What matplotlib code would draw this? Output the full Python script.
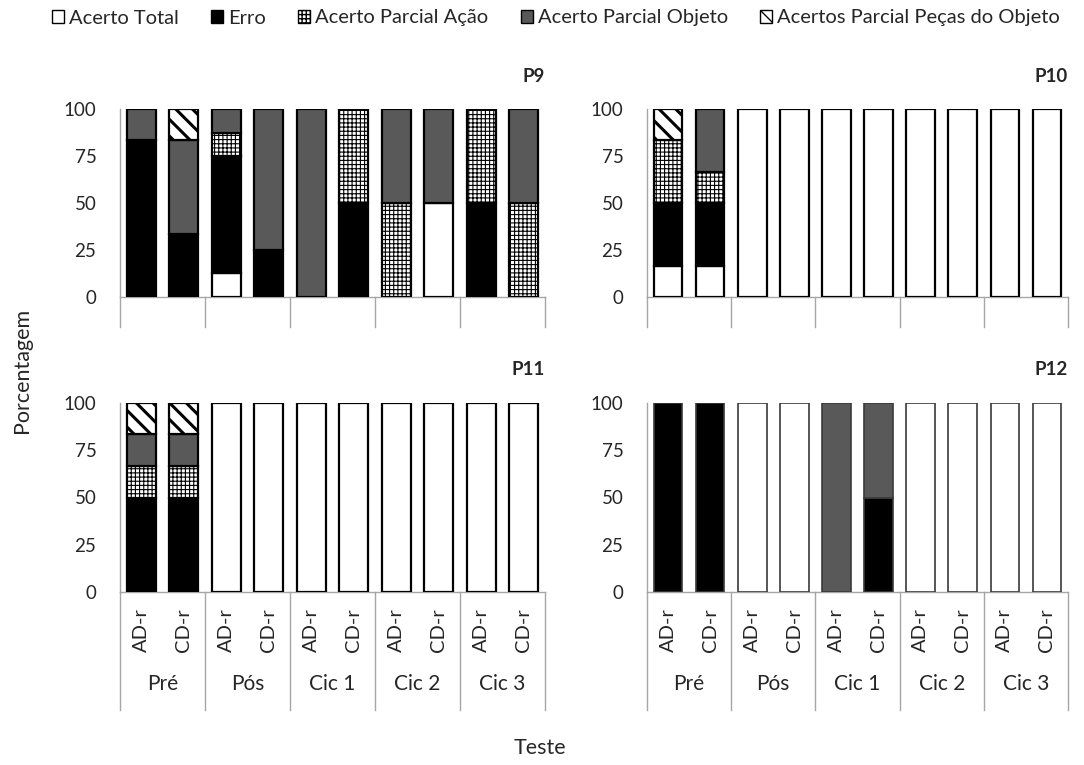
import numpy as np
import matplotlib
matplotlib.use('Agg')
import matplotlib.pyplot as plt
from matplotlib.patches import Patch

plt.rcParams['font.family'] = ['Lato', 'DejaVu Sans']

# categories
groups = ['Pré', 'Pós', 'Cic 1', 'Cic 2', 'Cic 3']
conds = ['AD-r', 'CD-r']
series = ['Acerto Total', 'Erro', 'Acerto Parcial Ação',
          'Acerto Parcial Objeto', 'Acertos Parcial Peças do Objeto']

# P9 (order: AD-r Pré, CD-r Pré, AD-r Pós, CD-r Pós, ... Cic 3)
p9_total  = [0, 0, 12.5, 0, 0, 0, 0, 50, 0, 0]
p9_erro   = [83.3, 33.3, 62.5, 25, 0, 50, 0, 0, 50, 0]
p9_acao   = [0, 0, 12.5, 0, 0, 50, 50, 0, 50, 50]
p9_objeto = [16.7, 50, 12.5, 75, 100, 0, 50, 50, 0, 50]
p9_pecas  = [0, 16.7, 0, 0, 0, 0, 0, 0, 0, 0]

# P10
p10_total  = [16.7, 16.7, 100, 100, 100, 100, 100, 100, 100, 100]
p10_erro   = [33.3, 33.3, 0, 0, 0, 0, 0, 0, 0, 0]
p10_acao   = [33.3, 16.7, 0, 0, 0, 0, 0, 0, 0, 0]
p10_objeto = [0, 33.3, 0, 0, 0, 0, 0, 0, 0, 0]
p10_pecas  = [16.7, 0, 0, 0, 0, 0, 0, 0, 0, 0]

# P11
p11_total  = [0, 0, 100, 100, 100, 100, 100, 100, 100, 100]
p11_erro   = [50, 50, 0, 0, 0, 0, 0, 0, 0, 0]
p11_acao   = [16.7, 16.7, 0, 0, 0, 0, 0, 0, 0, 0]
p11_objeto = [16.7, 16.7, 0, 0, 0, 0, 0, 0, 0, 0]
p11_pecas  = [16.6, 16.6, 0, 0, 0, 0, 0, 0, 0, 0]

# P12
p12_total  = [0, 0, 100, 100, 0, 0, 100, 100, 100, 100]
p12_erro   = [100, 100, 0, 0, 0, 50, 0, 0, 0, 0]
p12_acao   = [0, 0, 0, 0, 0, 0, 0, 0, 0, 0]
p12_objeto = [0, 0, 0, 0, 100, 50, 0, 0, 0, 0]
p12_pecas  = [0, 0, 0, 0, 0, 0, 0, 0, 0, 0]

panels = {
    'P9': [p9_total, p9_erro, p9_acao, p9_objeto, p9_pecas],
    'P10': [p10_total, p10_erro, p10_acao, p10_objeto, p10_pecas],
    'P11': [p11_total, p11_erro, p11_acao, p11_objeto, p11_pecas],
    'P12': [p12_total, p12_erro, p12_acao, p12_objeto, p12_pecas],
}

colors = ['white', 'black', 'white', '#595959', 'white']
hatches = [None, None, '++++', None, '\\\\']
hatch_lw = [1.0, 1.0, 0.8, 1.0, 2.2]

W, H = 1084, 765
fig = plt.figure(figsize=(W / 100, H / 100), dpi=100)

# axes boxes in pixels: left, y0 (bottom, from top), width, height
boxes = {
    'P9': (120, 297, 425, 188),
    'P10': (647, 297, 421, 188),
    'P11': (120, 592, 425, 189),
    'P12': (647, 592, 421, 189),
}

x = np.arange(10)
for name, vals in panels.items():
    l, y0, w, h = boxes[name]
    ax = fig.add_axes([l / W, 1 - y0 / H, w / W, h / H])
    bottom = np.zeros(10)
    edge = '#3a3a3a' if name == 'P12' else 'black'
    elw = 1.2 if name == 'P12' else 1.6
    for i, v in enumerate(vals):
        v = np.array(v, dtype=float)
        idx = v > 0
        with plt.rc_context({'hatch.linewidth': hatch_lw[i]}):
            ax.bar(x[idx], v[idx], bottom=bottom[idx], width=0.68,
                   color=colors[i], edgecolor=edge, linewidth=elw,
                   hatch=hatches[i], zorder=3)
        bottom += v
    ax.set_xlim(-0.5, 9.5)
    ax.set_ylim(0, 100)
    ax.set_yticks([0, 25, 50, 75, 100])
    ax.tick_params(axis='y', length=0, labelsize=13.5, pad=17, colors='#262626')
    ax.tick_params(axis='x', length=0)
    for s in ['top', 'right']:
        ax.spines[s].set_visible(False)
    ax.spines['left'].set_color('#a6a6a6')
    ax.spines['bottom'].set_color('#a6a6a6')
    ax.spines['left'].set_linewidth(1)
    ax.spines['bottom'].set_linewidth(1)
    ax.set_xticks([])
    ax.text(1.0, 1.13, name, transform=ax.transAxes, ha='right', va='bottom',
            fontsize=13.5, fontweight='bold', color='#262626')

    bottom_panel = name in ('P11', 'P12')
    depth = 118 / h if bottom_panel else 30 / h
    trans = ax.get_xaxis_transform()
    for sep in [-0.5, 1.5, 3.5, 5.5, 7.5, 9.5]:
        ax.plot([sep, sep], [0, -depth], transform=trans, color='#a6a6a6',
                lw=1, clip_on=False)
    if bottom_panel:
        for k in range(10):
            ax.text(k, -38 / h, conds[k % 2], transform=trans, rotation=90,
                    ha='center', va='center', fontsize=14.5, color='#262626')
        for g, gname in enumerate(groups):
            ax.text(2 * g + 0.5, -92 / h, gname, transform=trans,
                    ha='center', va='center', fontsize=15, color='#262626')

handles = [Patch(facecolor=colors[i], edgecolor='black', hatch=hatches[i],
                 linewidth=1, label=series[i]) for i in range(5)]
fig.legend(handles=handles, loc='center', bbox_to_anchor=(0.513, 1 - 18 / H),
           ncol=5, frameon=False, fontsize=14.5, handlelength=0.6,
           handleheight=0.6, handletextpad=0.25, columnspacing=1.6,
           labelcolor='#262626')

fig.text(22 / W, 1 - 370 / H, 'Porcentagem', rotation=90, ha='center',
         va='center', fontsize=15.5, color='#262626')
fig.text(540 / W, 1 - 748 / H, 'Teste', ha='center', va='center',
         fontsize=15.5, color='#262626')

fig.savefig('out.png', dpi=100)
